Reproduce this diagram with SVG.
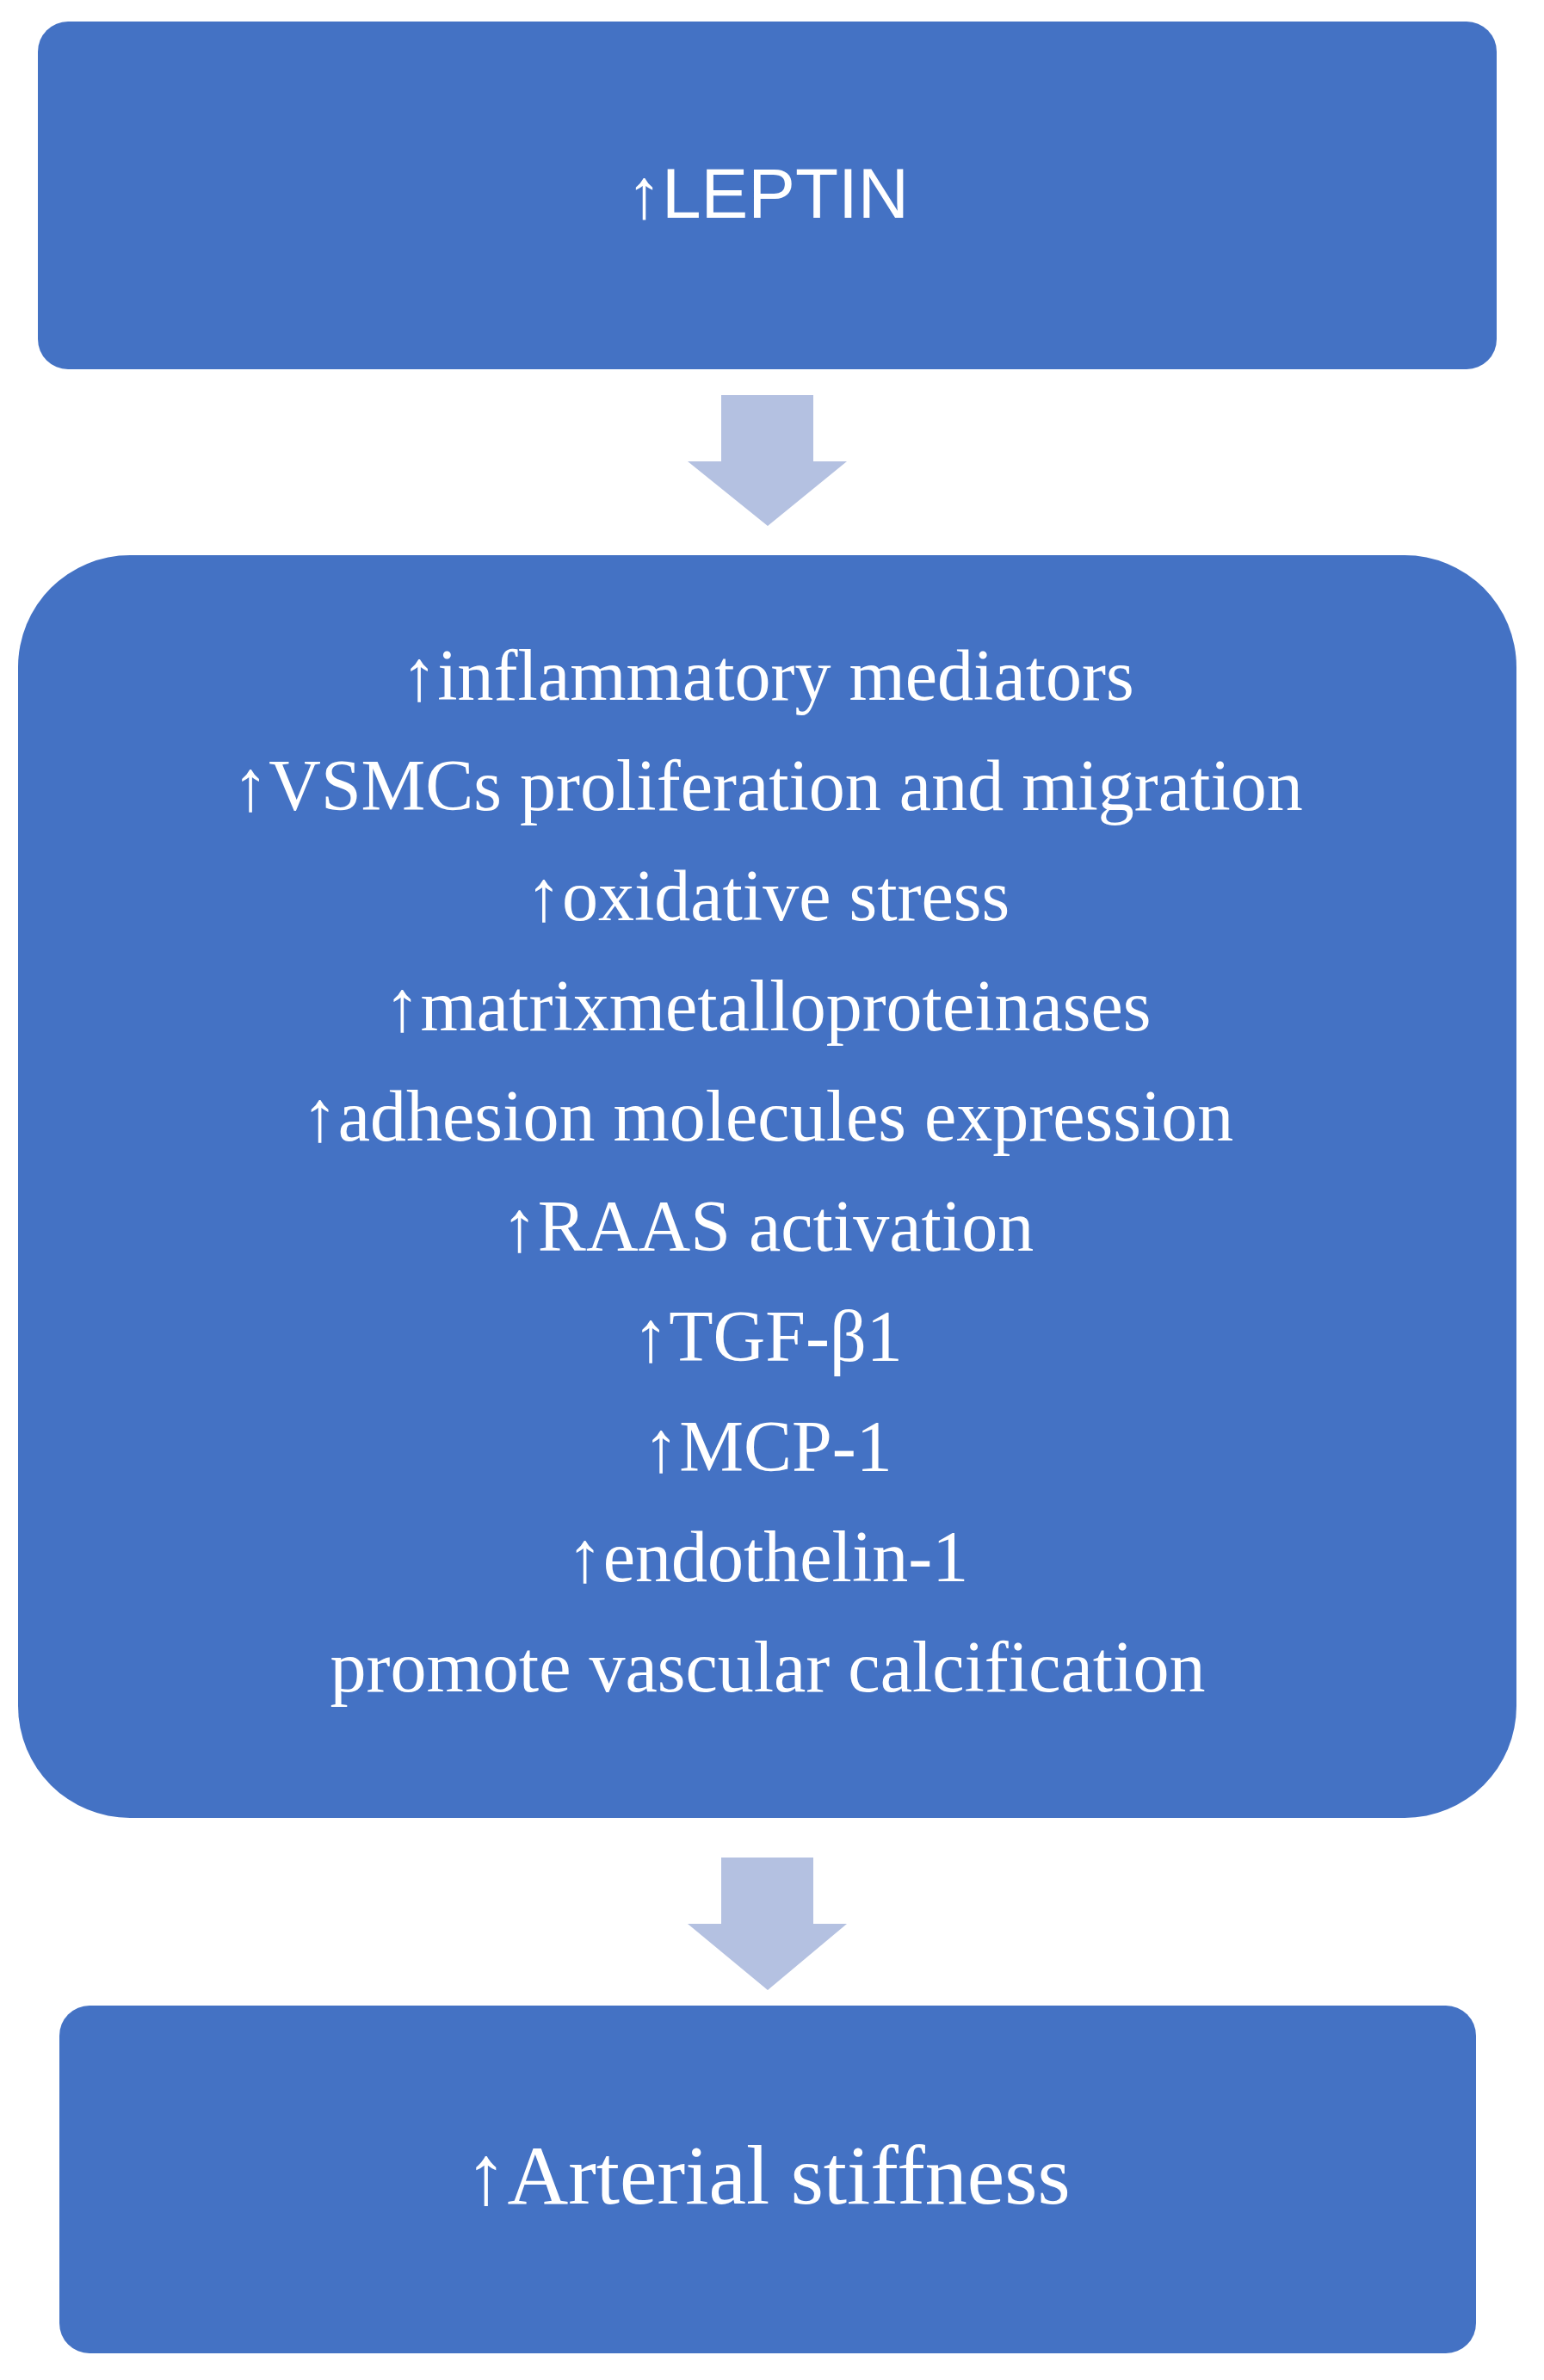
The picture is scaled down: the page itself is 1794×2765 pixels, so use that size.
<svg xmlns="http://www.w3.org/2000/svg" width="1794" height="2765" viewBox="0 0 1794 2765">
<style>
.box{fill:#4472C4}
.arr{fill:#B4C1E1}
.t{fill:#fff;font-family:"Liberation Serif",serif;font-size:84px;text-anchor:middle}
.s{fill:#fff;font-family:"Liberation Sans",sans-serif;font-size:82px;text-anchor:middle}
</style>
<rect width="1794" height="2765" fill="#fff"/>
<g id="leptin"><rect class="box" x="44" y="25" width="1695" height="404" rx="35"/>
<text class="s" x="892" y="253">↑LEPTIN</text></g>
<g id="effects"><rect class="box" x="21" y="645" width="1741" height="1467" rx="130"/>
<text class="t" x="892" y="813">↑inflammatory mediators</text>
<text class="t" x="892" y="941">↑VSMCs proliferation and migration</text>
<text class="t" x="892" y="1069">↑oxidative stress</text>
<text class="t" x="892" y="1197">↑matrixmetalloproteinases</text>
<text class="t" x="892" y="1325">↑adhesion molecules expression</text>
<text class="t" x="892" y="1453">↑RAAS activation</text>
<text class="t" x="892" y="1581">↑TGF-β1</text>
<text class="t" x="892" y="1709">↑MCP-1</text>
<text class="t" x="892" y="1837">↑endothelin-1</text>
<text class="t" x="892" y="1965">promote vascular calcification</text></g>
<g id="stiffness"><rect class="box" x="69" y="2330" width="1646" height="404" rx="35"/>
<text class="t" x="892" y="2560" style="font-size:98px">↑Arterial stiffness</text></g>
<g id="connectors">
<polygon class="arr" points="838,459 945,459 945,536 984,536 892,611 799,536 838,536"/>
<polygon class="arr" points="838,2158 945,2158 945,2235 984,2235 892,2312 799,2235 838,2235"/>
</g>
</svg>
